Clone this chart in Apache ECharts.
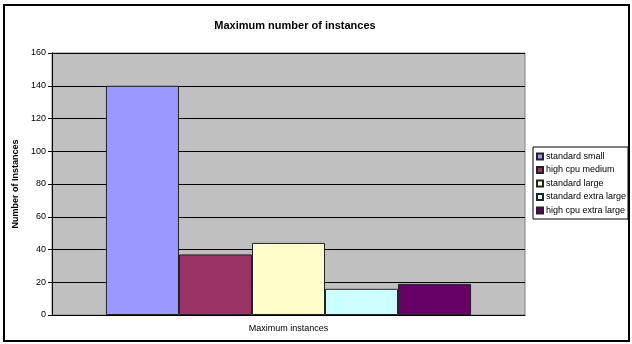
<!DOCTYPE html>
<html>
<head>
<meta charset="utf-8">
<script src="https://cdn.jsdelivr.net/npm/echarts@6/dist/echarts.min.js"></script>
<style>
  html, body { margin: 0; padding: 0; background: #fff; }
  #chart { width: 632px; height: 344px; }
</style>
</head>
<body>
<div id="chart"></div>
<script>
// Instance limits per type
const categories = ['Maximum instances'];
const seriesNames = ['standard small', 'high cpu medium', 'standard large', 'standard extra large', 'high cpu extra large'];
const seriesValues = [140, 37, 44, 16, 19];
const seriesColors = ['#9999FF', '#993366', '#FFFFCC', '#CCFFFF', '#660066'];
const yTicks = { min: 0, max: 160, interval: 20 };

const font = 'Liberation Sans, Arial, sans-serif';
const chart = echarts.init(document.getElementById('chart'), null, { renderer: 'canvas' });

const series = seriesNames.map((name, i) => ({
  name: name,
  type: 'bar',
  data: [seriesValues[i]],
  barGap: '0%',
  barCategoryGap: '22.8%',
  itemStyle: { color: seriesColors[i], borderColor: '#222', borderWidth: 1 },
  emphasis: { disabled: true }
}));

chart.setOption({
  animation: false,
  backgroundColor: '#fff',
  title: {
    text: 'Maximum number of instances',
    left: 290, top: 15, textAlign: 'center',
    textStyle: { fontFamily: font, fontSize: 11, fontWeight: 'bold', color: '#000' }
  },
  legend: {
    orient: 'vertical',
    left: 533, top: 147,
    padding: [5, 2, 4, 3],
    borderColor: '#000', borderWidth: 1,
    backgroundColor: '#fff',
    icon: 'rect',
    itemWidth: 6, itemHeight: 6, itemGap: 4.5,
    textStyle: { fontFamily: font, fontSize: 9, color: '#000', padding: [0, 0, 0, -2] },
    data: seriesNames
  },
  grid: {
    left: 52, right: 107, top: 53, bottom: 29,
    show: true, backgroundColor: '#C0C0C0',
    borderColor: '#808080', borderWidth: 1
  },
  xAxis: {
    type: 'category',
    data: categories,
    axisLine: { lineStyle: { color: '#000' } },
    axisTick: { show: false },
    axisLabel: { fontFamily: font, fontSize: 9, color: '#000', margin: 9 }
  },
  yAxis: {
    type: 'value',
    min: yTicks.min, max: yTicks.max, interval: yTicks.interval,
    name: 'Number of Instances',
    nameLocation: 'middle', nameGap: 21,
    nameTextStyle: { fontFamily: font, fontSize: 9, fontWeight: 'bold', color: '#000' },
    axisLine: { show: true, lineStyle: { color: '#000' } },
    axisTick: { show: true, length: 4, lineStyle: { color: '#000' } },
    axisLabel: { fontFamily: font, fontSize: 9, color: '#000', margin: 6 },
    splitLine: { show: true, lineStyle: { color: '#000', width: 1 } }
  },
  graphic: [{
    type: 'rect',
    shape: { x: 4, y: 5, width: 625, height: 336 },
    style: { fill: 'none', stroke: '#000', lineWidth: 2 },
    silent: true
  }],
  series: series
});
</script>
</body>
</html>
